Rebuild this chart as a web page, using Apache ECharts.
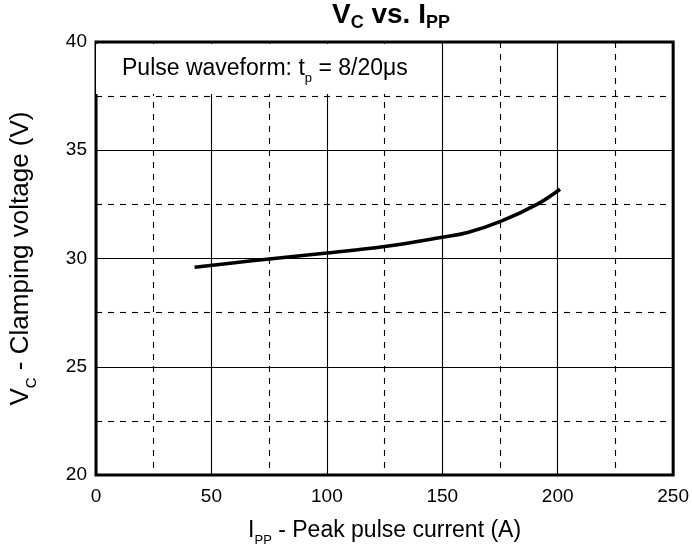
<!DOCTYPE html>
<html>
<head>
<meta charset="utf-8">
<script src="https://cdn.jsdelivr.net/npm/echarts@6/dist/echarts.min.js"></script>
<style>html,body{margin:0;padding:0;background:#fff;}#c{width:692px;height:552px;}</style>
</head>
<body>
<div id="c"></div>
<script>
const currentA = [42.7, 60, 75, 100, 125, 150, 161, 175, 191, 201];
const clampV   = [29.6, 29.8, 29.98, 30.25, 30.55, 30.98, 31.2, 31.7, 32.5, 33.2];
const xTicks = [0, 50, 100, 150, 200, 250];
const yTicks = [20, 25, 30, 35, 40];

const FONT = '"Liberation Sans", Arial, sans-serif';
const chart = echarts.init(document.getElementById('c'), null, {renderer: 'canvas'});

function axisCommon(ticks, interval) {
  return {
    type: 'value',
    min: ticks[0], max: ticks[ticks.length - 1], interval: interval,
    axisLine: {show: false},
    axisTick: {show: false},
    splitLine: {show: true, lineStyle: {color: '#000', width: 1.1, type: 'solid'}},
    minorTick: {show: false, splitNumber: 2},
    minorSplitLine: {show: true, lineStyle: {color: '#000', width: 1.1, type: [6, 6]}},
    axisLabel: {color: '#000', fontSize: 19, fontFamily: FONT}
  };
}

const xa = axisCommon(xTicks, 50);
xa.axisLabel.margin = 12;
xa.name = '{m|I}{s|PP}{m| - Peak pulse current (A)}';
xa.nameLocation = 'middle';
xa.nameGap = 40;
xa.nameTextStyle = {
  color: '#000', fontFamily: FONT,
  rich: {
    m: {fontSize: 23, fontFamily: FONT, color: '#000', lineHeight: 32, verticalAlign: 'middle'},
    s: {fontSize: 13, fontFamily: FONT, color: '#000', lineHeight: 13, verticalAlign: 'bottom'}
  }
};

const ya = axisCommon(yTicks, 5);
ya.axisLabel.margin = 9;
ya.name = '{m|V}{s|C}{m| - Clamping voltage (V)}';
ya.nameLocation = 'middle';
ya.nameRotate = 90;
ya.nameGap = 57;
ya.nameTextStyle = {
  color: '#000', fontFamily: FONT,
  rich: {
    m: {fontSize: 26, fontFamily: FONT, color: '#000', lineHeight: 36, verticalAlign: 'middle'},
    s: {fontSize: 15, fontFamily: FONT, color: '#000', lineHeight: 15, verticalAlign: 'bottom'}
  }
};

const pts = currentA.map((a, i) => [a, clampV[i]]);

chart.setOption({
  animation: false,
  backgroundColor: '#fff',
  grid: {left: 94, right: 17, top: 42, bottom: 77, show: true, borderColor: '#000', borderWidth: 3, backgroundColor: 'transparent'},
  xAxis: xa,
  yAxis: ya,
  series: [{
    type: 'line', data: pts, smooth: 0.4, showSymbol: false,
    lineStyle: {color: '#000', width: 3.5}, z: 5
  }],
  graphic: [
    {type: 'rect', shape: {x: 96, y: 44, width: 345, height: 50}, style: {fill: '#fff'}, z: 10},
    {type: 'text', left: 122, top: 57, z: 11, style: {
      text: '{m|Pulse waveform: t}{s|p}{m| = 8/20μs}',
      rich: {
        m: {fontSize: 23, fontFamily: FONT, fill: '#000', lineHeight: 32, verticalAlign: 'middle'},
        s: {fontSize: 13, fontFamily: FONT, fill: '#000', lineHeight: 13, verticalAlign: 'bottom'}
      }
    }},
    {type: 'text', left: 332, top: 1, z: 11, style: {
      text: '{m|V}{s|C}{m| vs. I}{s|PP}',
      rich: {
        m: {fontSize: 28, fontWeight: 'bold', fontFamily: FONT, fill: '#000', lineHeight: 34, verticalAlign: 'middle'},
        s: {fontSize: 18, fontWeight: 'bold', fontFamily: FONT, fill: '#000', lineHeight: 26, verticalAlign: 'bottom'}
      }
    }}
  ]
});
</script>
</body>
</html>
